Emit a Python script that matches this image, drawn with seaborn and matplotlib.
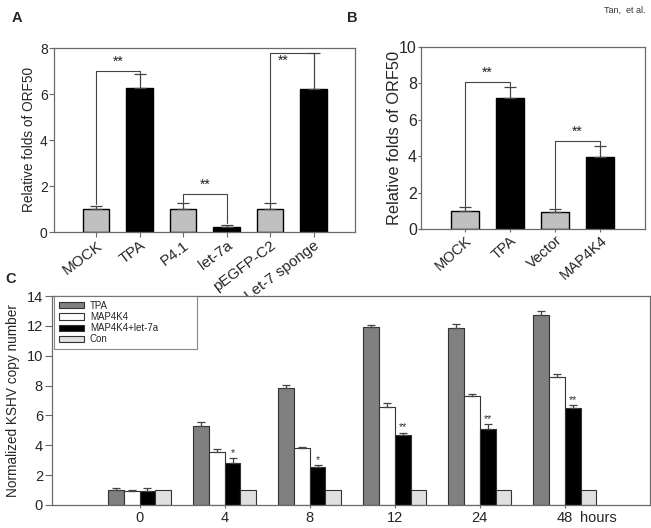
import numpy as np
import pandas as pd
import seaborn as sns
import matplotlib.pyplot as plt
from matplotlib.patches import Patch

sns.set_style("ticks")
plt.rcParams['font.family'] = ['Liberation Sans', 'DejaVu Sans']

# panel A
a_labels = ['MOCK', 'TPA', 'P4.1', 'let-7a', 'pEGFP-C2', 'Let-7 sponge']
a_values = [1.0, 6.25, 1.0, 0.2, 1.02, 6.22]
a_errors = [0.15, 0.6, 0.27, 0.12, 0.22, 1.55]
a_group = ['ctrl', 'trt', 'ctrl', 'trt', 'ctrl', 'trt']
a_pairs = [(0, 1), (2, 3), (4, 5)]
a_bracket = [7.0, 1.65, 7.8]
a_star_y = [7.4, 2.05, 7.45]
a_star_dx = [0.5, 0.5, 0.3]

# panel B
b_labels = ['MOCK', 'TPA', 'Vector', 'MAP4K4']
b_values = [1.0, 7.2, 0.95, 3.95]
b_errors = [0.2, 0.6, 0.15, 0.6]
b_group = ['ctrl', 'trt', 'ctrl', 'trt']
b_pairs = [(0, 1), (2, 3)]
b_bracket = [8.08, 4.83]
b_star_y = [8.6, 5.35]
b_star_dx = [0.5, 0.5]

# panel C
c_hours = ['0', '4', '8', '12', '24', '48']
c_series = ['TPA', 'MAP4K4', 'MAP4K4+let-7a', 'Con']
c_tpa = [1.0, 5.31, 7.86, 11.94, 11.85, 12.72]
c_tpa_err = [0.12, 0.27, 0.2, 0.1, 0.25, 0.25]
c_map = [0.95, 3.53, 3.79, 6.58, 7.32, 8.59]
c_map_err = [0.08, 0.22, 0.1, 0.27, 0.13, 0.2]
c_let = [0.95, 2.79, 2.54, 4.69, 5.11, 6.47]
c_let_err = [0.18, 0.33, 0.13, 0.15, 0.31, 0.2]
c_con = [1.0, 1.0, 1.0, 1.0, 1.0, 1.0]
c_con_err = [0, 0, 0, 0, 0, 0]
c_stars = ['', '*', '*', '**', '**', '**']

spine_col = '#6a6a6a'
line_col = '#444444'
ab_pal = {'ctrl': '#c0c0c0', 'trt': 'black'}
c_pal = {'TPA': '#808080', 'MAP4K4': 'white', 'MAP4K4+let-7a': 'black', 'Con': '#e0e0e0'}


def style_axes(ax, size=10.5, length=3.5, pad=1.5):
    for s in ax.spines.values():
        s.set_visible(True)
        s.set_color(spine_col)
        s.set_linewidth(0.9)
    ax.tick_params(axis='both', length=length, width=0.8, color=spine_col, labelsize=size, pad=pad)


def simple_panel(ax, labels, values, errors, group, pairs, bracket, star_y, star_dx,
                 ymax, xlim, ylabel, ylab_size, ylab_pad, ytick_size, tick_len, xrot, xsize):
    sns.barplot(x=labels, y=values, hue=group, palette=ab_pal, dodge=False, legend=False,
                width=0.61, edgecolor='black', linewidth=1, ax=ax)
    x = np.arange(len(labels))
    ax.errorbar(x, values, yerr=[np.zeros(len(values)), errors], fmt='none',
                ecolor=line_col, elinewidth=0.9, capsize=4.5, capthick=0.9, zorder=1)
    for (i, j), h, sy, dx in zip(pairs, bracket, star_y, star_dx):
        lo_i = values[i] + errors[i] + 0.05
        lo_j = min(values[j] + errors[j] + 0.05, h - 0.1)
        ax.plot([i, i, j, j], [lo_i, h, h, lo_j], color=line_col, lw=0.8)
        ax.text(i + dx, sy, '**', ha='center', va='center', fontsize=10, color='#222222')
    ax.set_ylim(0, ymax)
    ax.set_xlim(*xlim)
    ax.set_yticks(np.arange(0, ymax + 1, 2))
    ax.set_ylabel(ylabel, fontsize=ylab_size, labelpad=ylab_pad)
    ax.set_xlabel('')
    style_axes(ax, size=ytick_size, length=tick_len, pad=1)
    ax.set_xticks(x)
    ax.set_xticklabels(labels, rotation=xrot, ha='right', rotation_mode='anchor', fontsize=xsize)


fig = plt.figure(figsize=(6.51, 5.28), dpi=100)

axA = fig.add_axes([54 / 651, 1 - 232 / 528, 301 / 651, 184 / 528])
simple_panel(axA, a_labels, a_values, a_errors, a_group, a_pairs, a_bracket, a_star_y, a_star_dx,
             8, (-0.97, 5.95), 'Relative folds of ORF50', 9.8, 3, 10, 3.5, 37, 11)

axB = fig.add_axes([421 / 651, 1 - 229 / 528, 224 / 651, 182 / 528])
simple_panel(axB, b_labels, b_values, b_errors, b_group, b_pairs, b_bracket, b_star_y, b_star_dx,
             10, (-0.98, 4.0), 'Relative folds of ORF50', 11.8, -2, 11.5, 2, 42, 10.5)

# panel C
axC = fig.add_axes([52 / 651, 1 - 505 / 528, 598 / 651, 209 / 528])
vals = [c_tpa, c_map, c_let, c_con]
errs = [c_tpa_err, c_map_err, c_let_err, c_con_err]
df = pd.DataFrame({
    'hour': np.tile(c_hours, len(c_series)),
    'series': np.repeat(c_series, len(c_hours)),
    'value': np.concatenate(vals),
})
sns.barplot(data=df, x='hour', y='value', hue='series', palette=c_pal, width=0.74,
            edgecolor='#333333', linewidth=0.8, errorbar=None, ax=axC)
for cont, v, e in zip(axC.containers, vals, errs):
    xs = [b.get_x() + b.get_width() / 2 for b in cont]
    keep = [k for k, ee in enumerate(e) if ee > 0]
    if keep:
        axC.errorbar([xs[k] for k in keep], [v[k] for k in keep],
                     yerr=[np.zeros(len(keep)), [e[k] for k in keep]], fmt='none',
                     ecolor=line_col, elinewidth=0.9, capsize=3, capthick=0.9, zorder=1)
let_cont = axC.containers[2]
for b, v, e, s in zip(let_cont, c_let, c_let_err, c_stars):
    if s:
        axC.text(b.get_x() + b.get_width() / 2, v + e + 0.03, s, ha='center', va='bottom',
                 fontsize=7.5, color='#333333')
axC.set_ylim(0, 14)
axC.set_xlim(-1.03, 6.0)
axC.set_yticks(np.arange(0, 15, 2))
axC.set_ylabel('Normalized KSHV copy number', fontsize=9.8, labelpad=5)
axC.set_xlabel('')
style_axes(axC)
axC.tick_params(axis='y', length=5)
axC.tick_params(axis='x', length=2, pad=2)
axC.annotate('hours', xy=(5, 0), xycoords=('data', 'axes fraction'), xytext=(11, -4),
             textcoords='offset points', ha='left', va='top', fontsize=10.5)
axC.get_legend().remove()
handles = [Patch(facecolor=c_pal[s], edgecolor='#333333', linewidth=0.8) for s in c_series]
leg = axC.legend(handles, c_series, loc='upper left', bbox_to_anchor=(0.004, 0.0, 0.238, 0.998),
                 mode='expand', borderaxespad=0, fontsize=7, frameon=True, fancybox=False,
                 handlelength=2.6, handleheight=0.6, labelspacing=0.12, handletextpad=0.6,
                 borderpad=0.45)
leg.get_frame().set_edgecolor(spine_col)
leg.get_frame().set_linewidth(0.8)

fig.text(12 / 651, 1 - 18 / 528, 'A', fontsize=10.5, fontweight='bold', va='center')
fig.text(347 / 651, 1 - 18 / 528, 'B', fontsize=10.5, fontweight='bold', va='center')
fig.text(5 / 651, 1 - 279 / 528, 'C', fontsize=10.5, fontweight='bold', va='center')
fig.text(645 / 651, 1 - 10 / 528, 'Tan,  et al.', fontsize=6.5, ha='right', va='center', color='#333333')

fig.savefig('out.png', dpi=100)
